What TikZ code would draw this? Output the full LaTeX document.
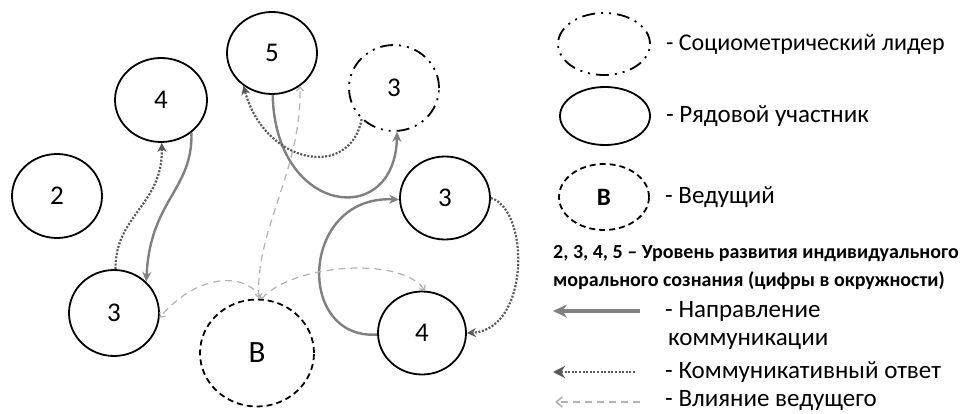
\documentclass[tikz,border=0pt]{standalone}
\usepackage{fontspec}
\setmainfont{Carlito}
\usetikzlibrary{arrows.meta,positioning,shapes.geometric}

\begin{document}
\begin{tikzpicture}[
x=1pt,y=-1pt,
member/.style={
  draw,
  ellipse,
  line width=1.8pt,
  minimum width=90pt,
  minimum height=84pt,
  inner sep=0pt,
  font=\fontsize{27}{31}\selectfont
},
leader/.style={member,dash pattern=on 13pt off 6pt on 2pt off 6pt on 2pt off 6pt},
host/.style={member,dash pattern=on 6pt off 4pt},
comm/.style={-{Stealth[length=10pt,width=9pt]},line width=2.4pt,draw=black!50},
reply/.style={-{Stealth[length=9pt,width=9pt]},line width=2.2pt,draw=black!65,dash pattern=on 2pt off 1.6pt},
infl/.style={-{Straight Barb[length=4pt,width=7pt]},line width=1.2pt,draw=black!30,dash pattern=on 7pt off 5pt},
legtext/.style={anchor=west,inner sep=0pt,font=\fontsize{25}{29}\selectfont},
smalltext/.style={anchor=west,inner sep=0pt,font=\fontsize{20}{24}\selectfont\bfseries}
]
\useasboundingbox (0,0) rectangle (962,414);

% group members
\node[member] (two) at (57,196) {2};
\node[member,minimum width=92pt] (fourL) at (161,100) {4};
\node[member,minimum height=82pt] (five) at (272,53) {5};
\node[leader,minimum height=86pt] (lead) at (394,88) {3};
\node[member,minimum height=83pt] (threeR) at (445,198) {3};
\node[member,minimum height=86pt] (threeL) at (114,313) {3};
\node[member,minimum width=88pt,minimum height=83pt] (fourR) at (422,333) {4};
\node[host,minimum width=114pt,minimum height=107pt,font=\fontsize{31}{35}\selectfont] (host) at (257,353) {В};

% communication
\draw[comm] (fourL.-47) .. controls (193,190) and (150,200) .. (threeL.44);
\draw[comm] (five.-89) .. controls (275,215) and (395,230) .. (lead.-86);
\draw[comm] (fourR.182) .. controls (295,340) and (300,195) .. (threeR.182);

% answers
\draw[reply] (threeL.88) .. controls (115,215) and (163,205) .. (fourL.-89);
\draw[reply] (lead.-136) .. controls (350,180) and (265,165) .. (five.229);
\draw[reply] (threeR.0) .. controls (530,210) and (530,330) .. (fourR.0);

% influence of the host
\draw[infl] (host.85) .. controls (245,270) and (195,275) .. (threeL.-6);
\draw[infl] (host.85) .. controls (290,265) and (400,255) .. (fourR.86);
\draw[infl,{Straight Barb[length=4pt,width=7pt]}-{Straight Barb[length=4pt,width=7pt]}] (host.88) .. controls (255,230) and (302,170) .. (five.-50);

% legend
\node[leader,minimum width=92pt,minimum height=62pt] (legLead) at (604,44) {};
\node[member,minimum height=58pt] (legMember) at (605,116) {};
\node[host,minimum height=66pt,font=\fontsize{25}{29}\selectfont\bfseries] (legHost) at (604,197) {В};
\node[legtext,right=15pt of legLead,font=\fontsize{24}{28}\selectfont] (txtLead) {- Социометрический лидер};
\node[legtext,right=15pt of legMember] (txtMember) {- Рядовой участник};
\node[legtext,right=15pt of legHost] (txtHost) {- Ведущий};
\node[smalltext] (txtLevel) at (553,254) {2, 3, 4, 5 -- Уровень развития индивидуального};
\node[smalltext] (txtLevelB) at (553,281) {морального сознания (цифры в окружности)};

\coordinate (commA) at (640,311);
\coordinate (commB) at (553,311);
\coordinate (replyA) at (635,372);
\coordinate (replyB) at (553,372);
\coordinate (inflA) at (640,402);
\coordinate (inflB) at (555,402);
\draw[comm,line width=3.5pt,-{Stealth[length=14pt,width=13pt]}] (commA) -- (commB);
\draw[reply,line width=2.6pt,-{Stealth[length=12pt,width=12pt]}] (replyA) -- (replyB);
\draw[infl,line width=1.6pt,-{Straight Barb[length=6pt,width=10pt]}] (inflA) -- (inflB);
\node[legtext] (txtComm) at (665,311) {- Направление};
\node[legtext] (txtCommB) at (668,341) {коммуникации};
\node[legtext] (txtReply) at (665,372) {- Коммуникативный ответ};
\node[legtext] (txtInfl) at (665,401) {- Влияние ведущего};
\end{tikzpicture}
\end{document}
